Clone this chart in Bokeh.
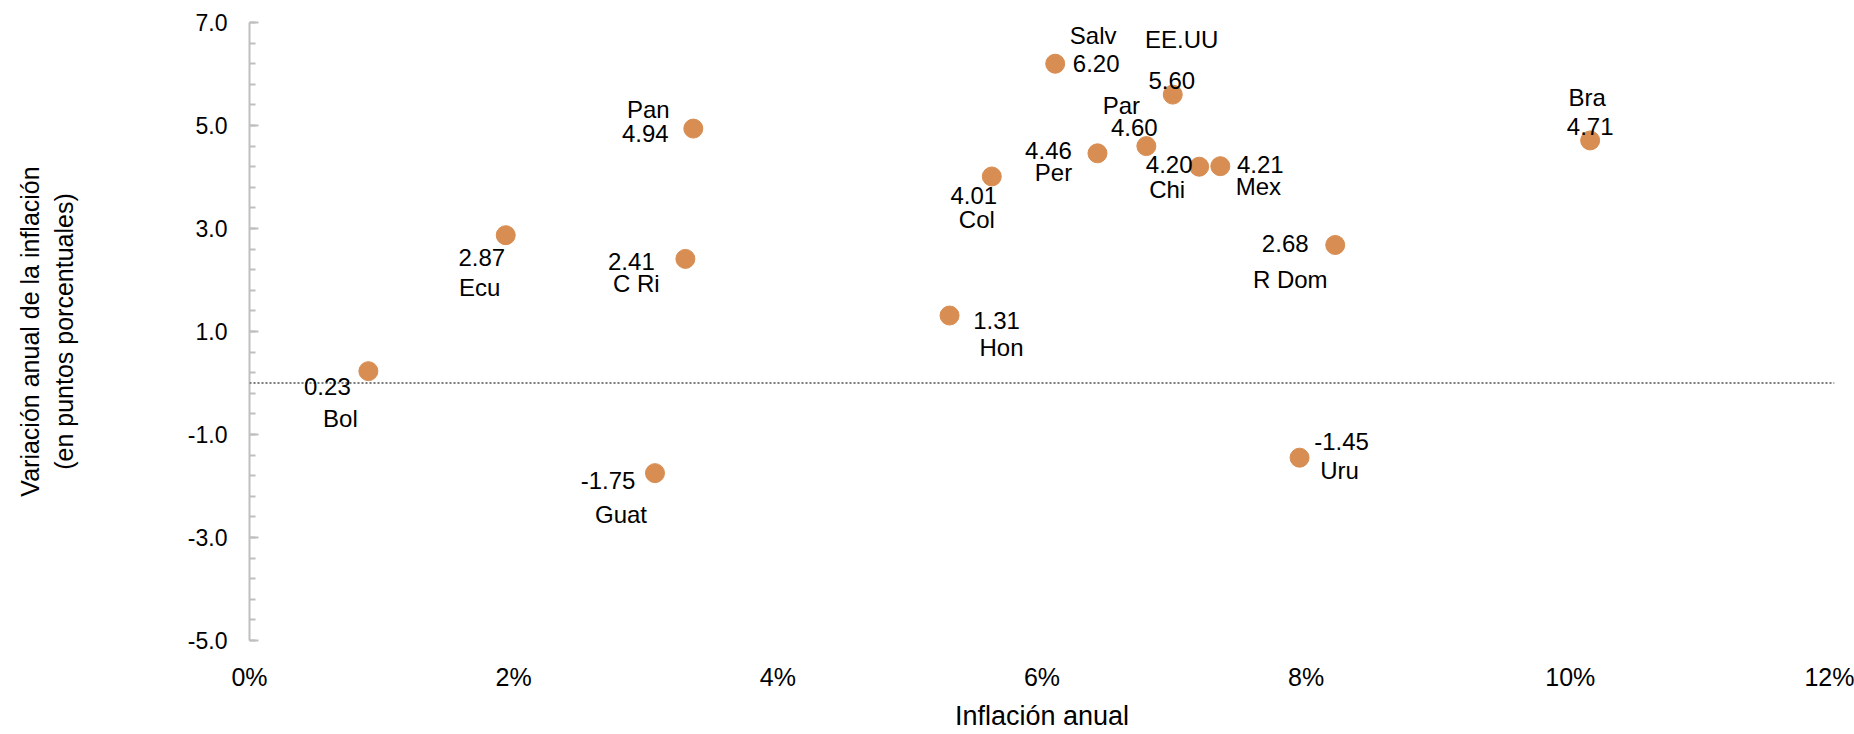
from bokeh.plotting import figure
from bokeh.models import ColumnDataSource, LabelSet, Span, FixedTicker
from bokeh.core.properties import value
from bokeh.embed import file_html
from bokeh.resources import INLINE

# ---- data ----
countries = ["Bol", "Ecu", "C Ri", "Pan", "Guat", "Hon", "Col", "Salv",
             "Per", "Par", "EE.UU", "Chi", "Mex", "R Dom", "Bra", "Uru"]
inflation = [0.90, 1.94, 3.30, 3.36, 3.07, 5.30, 5.62, 6.10,
             6.42, 6.79, 6.99, 7.19, 7.35, 8.22, 10.15, 7.95]
variation = [0.23, 2.87, 2.41, 4.94, -1.75, 1.31, 4.01, 6.20,
             4.46, 4.60, 5.60, 4.20, 4.21, 2.68, 4.71, -1.45]

x_ticks = [0, 2, 4, 6, 8, 10, 12]
x_tick_labels = ["0%", "2%", "4%", "6%", "8%", "10%", "12%"]
y_ticks = [-5, -3, -1, 1, 3, 5, 7]
y_tick_labels = ["-5.0", "-3.0", "-1.0", "1.0", "3.0", "5.0", "7.0"]

x_title = "Inflación anual"
y_title = "Variación anual de la inflación\n(en puntos porcentuales)"

# ---- label placement (screen px, right / down) ----
value_offsets = [(-41, 15), (-24, 22), (-54, 3), (-48, 5), (-47, 7), (47, 5),
                 (-18, 19), (41, 0), (-49, -3), (-12, -19), (-1, -14), (-30, -2),
                 (40, -2), (-50, -1), (0, -14), (42, -16)]
name_offsets = [(-28, 47), (-26, 52), (-49, 25), (-45, -19), (-34, 41), (52, 32),
                (-15, 43), (38, -28), (-44, 19), (-25, -41), (9, -55), (-32, 23),
                (38, 20), (-45, 35), (-3, -43), (40, 13)]

FONT = "Liberation Sans"
DOT = "#D88D52"

p = figure(width=1854, height=734, x_range=(0, 12), y_range=(-5, 7),
           output_backend="svg", toolbar_location=None,
           min_border_left=249, min_border_right=20, min_border_top=22,
           min_border_bottom=94)
p.outline_line_color = None
p.grid.grid_line_color = None
p.background_fill_color = "white"

src = ColumnDataSource(dict(
    x=inflation, y=variation, name=countries,
    val=[f"{v:.2f}" for v in variation],
    vdx=[o[0] for o in value_offsets], vdy=[-o[1] for o in value_offsets],
    ndx=[o[0] for o in name_offsets], ndy=[-o[1] for o in name_offsets],
))

p.add_layout(Span(location=0, dimension="width", line_color="#7a7a7a",
                  line_width=2, line_dash="2 2"))

p.scatter("x", "y", source=src, size=19, fill_color=DOT, line_color=DOT)

for col, dx, dy in (("val", "vdx", "vdy"), ("name", "ndx", "ndy")):
    p.add_layout(LabelSet(x="x", y="y", text=col, source=src, x_offset=dx,
                          y_offset=dy, text_align="center",
                          text_baseline="middle", text_font=value(FONT),
                          text_font_size="24px", text_color="black"))

# x axis
p.xaxis.ticker = FixedTicker(ticks=x_ticks)
p.xaxis.major_label_overrides = {t: l for t, l in zip(x_ticks, x_tick_labels)}
p.xaxis.axis_line_color = None
p.xaxis.major_tick_line_color = None
p.xaxis.minor_tick_line_color = None
p.xaxis.major_tick_in = 0
p.xaxis.major_tick_out = 0
p.xaxis.major_label_standoff = 22
p.xaxis.major_label_text_font = FONT
p.xaxis.major_label_text_font_size = "25px"
p.xaxis.major_label_text_color = "black"
p.xaxis.axis_label = x_title
p.xaxis.axis_label_text_font = FONT
p.xaxis.axis_label_text_font_size = "27px"
p.xaxis.axis_label_text_font_style = "normal"
p.xaxis.axis_label_text_color = "black"
p.xaxis.axis_label_standoff = 7

# y axis
minor = [round(-5 + 0.4 * i, 2) for i in range(31)]
p.yaxis.ticker = FixedTicker(ticks=y_ticks, minor_ticks=minor)
p.yaxis.major_label_overrides = {t: l for t, l in zip(y_ticks, y_tick_labels)}
p.yaxis.axis_line_color = "#bfbfbf"
p.yaxis.axis_line_width = 2
p.yaxis.major_tick_line_color = "#bfbfbf"
p.yaxis.major_tick_line_width = 2
p.yaxis.major_tick_in = 9
p.yaxis.major_tick_out = 0
p.yaxis.minor_tick_line_color = "#bfbfbf"
p.yaxis.minor_tick_line_width = 2
p.yaxis.minor_tick_in = 6
p.yaxis.minor_tick_out = 0
p.yaxis.major_label_standoff = 22
p.yaxis.major_label_text_font = FONT
p.yaxis.major_label_text_font_size = "23px"
p.yaxis.major_label_text_color = "black"
p.yaxis.axis_label = y_title
p.yaxis.axis_label_text_font = FONT
p.yaxis.axis_label_text_font_size = "25px"
p.yaxis.axis_label_text_font_style = "normal"
p.yaxis.axis_label_text_color = "black"
p.yaxis.axis_label_text_line_height = 1.2
p.yaxis.axis_label_standoff = 107

open("out.html", "w").write(file_html(p, INLINE))
